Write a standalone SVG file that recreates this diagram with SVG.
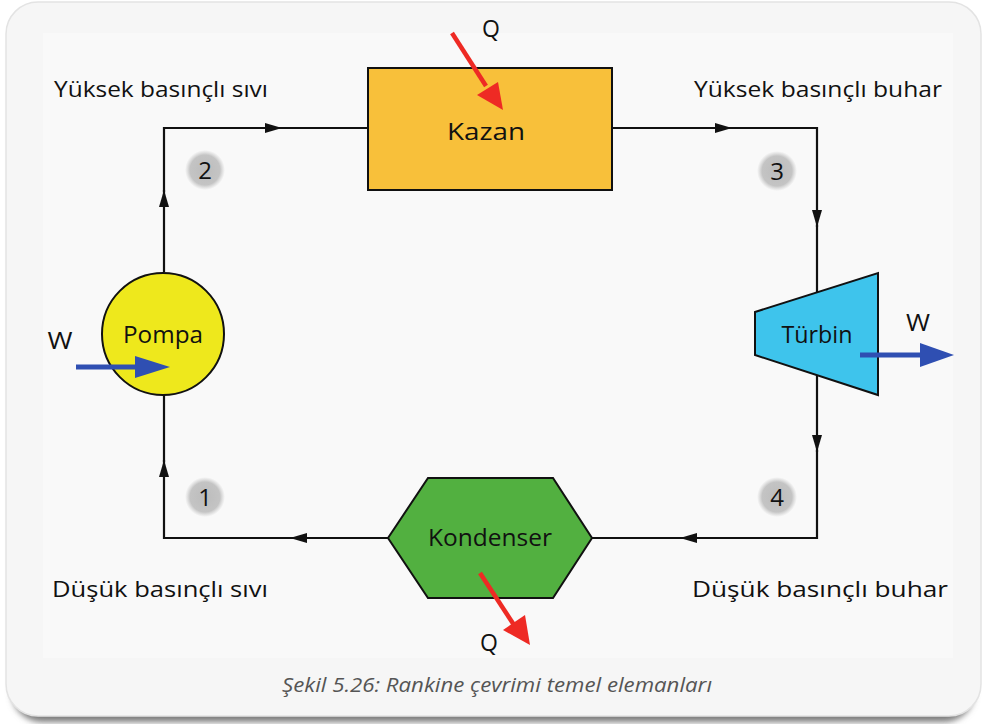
<svg xmlns="http://www.w3.org/2000/svg" width="984" height="724" viewBox="0 0 984 724">
<defs>
<style>
.lbl{font-family:"Open Sans","Liberation Sans",sans-serif;font-size:22px;fill:#111}
.nm{font-family:"Open Sans","Liberation Sans",sans-serif;font-size:23px;fill:#111;text-anchor:middle}
.num{font-family:"Open Sans","Liberation Sans",sans-serif;font-size:24px;fill:#111;text-anchor:middle}
.ln{fill:none;stroke:#111;stroke-width:2.2}
.sh{stroke:#111;stroke-width:2}
.cap{font-family:"Open Sans","Liberation Sans",sans-serif;font-size:20px;font-style:italic;fill:#555;text-anchor:middle}
</style>
<marker id="ah" viewBox="0 0 17 10" refX="17" refY="5" markerWidth="17" markerHeight="10" markerUnits="userSpaceOnUse" orient="auto">
<path d="M0,0 L17,5 L0,10 Z" fill="#111"/>
</marker>
<radialGradient id="ng">
<stop offset="0" stop-color="#bcbcbc"/>
<stop offset="0.75" stop-color="#c4c4c4"/>
<stop offset="1" stop-color="#cccccc" stop-opacity="0"/>
</radialGradient>
<filter id="blur" x="-10%" y="-10%" width="120%" height="140%"><feGaussianBlur stdDeviation="3"/></filter>
</defs>
<rect width="984" height="724" fill="#ffffff"/>
<rect x="12" y="20" width="962" height="702" rx="30" fill="#7a7a7a" filter="url(#blur)"/>
<rect x="6" y="2" width="975" height="714" rx="32" fill="#f6f6f6" stroke="#e3e3e3" stroke-width="1.5"/>
<rect x="43" y="33" width="910" height="625" fill="#f9f9f9"/>

<g id="connectors">
<path class="ln" d="M164,272 V190" marker-end="url(#ah)"/>
<path class="ln" d="M164,192 V128 H282" marker-end="url(#ah)"/>
<path class="ln" d="M280,128 H368"/>
<path class="ln" d="M612,128 H732" marker-end="url(#ah)"/>
<path class="ln" d="M730,128 H817 V227" marker-end="url(#ah)"/>
<path class="ln" d="M817,225 V300"/>
<path class="ln" d="M817,370 V452" marker-end="url(#ah)"/>
<path class="ln" d="M817,450 V538 H680" marker-end="url(#ah)"/>
<path class="ln" d="M682,538 H592"/>
<path class="ln" d="M388,538 H290" marker-end="url(#ah)"/>
<path class="ln" d="M292,538 H164 V460" marker-end="url(#ah)"/>
<path class="ln" d="M164,462 V395"/>
</g>

<g id="kazan">
<rect x="368" y="68" width="244" height="122" fill="#f8c03a" class="sh"/>
<text class="nm" x="486" y="140" textLength="78" lengthAdjust="spacingAndGlyphs">Kazan</text>
</g>

<g id="turbin">
<polygon points="755,312 878,273 878,395 755,355" fill="#3ec4ec" class="sh"/>
<text class="nm" x="817" y="343" textLength="71" lengthAdjust="spacingAndGlyphs">Türbin</text>
</g>

<g id="pompa">
<circle cx="163" cy="334" r="61" fill="#eee81c" class="sh"/>
<text class="nm" x="163" y="343" textLength="80" lengthAdjust="spacingAndGlyphs">Pompa</text>
</g>

<g id="kondenser">
<polygon points="388,538 428,478 553,478 592,538 553,598 428,598" fill="#52b040" class="sh"/>
<text class="nm" x="490" y="546" textLength="124" lengthAdjust="spacingAndGlyphs">Kondenser</text>
</g>

<g id="heat-work">
<line x1="452" y1="33" x2="486" y2="86" stroke="#ee2a24" stroke-width="4.5"/>
<polygon points="477,95 503,110 498,82" fill="#ee2a24"/>
<line x1="480" y1="573" x2="514" y2="625" stroke="#ee2a24" stroke-width="4.5"/>
<polygon points="503,630 530,645 525,615" fill="#ee2a24"/>
<line x1="76" y1="367" x2="140" y2="367" stroke="#2f4fb2" stroke-width="5"/>
<polygon points="135,356 170,367 135,378" fill="#2f4fb2"/>
<line x1="860" y1="355" x2="924" y2="355" stroke="#2f4fb2" stroke-width="5"/>
<polygon points="920,343 954,355 920,367" fill="#2f4fb2"/>
<text class="nm" x="491" y="37">Q</text>
<text class="nm" x="489" y="651">Q</text>
<text class="nm" x="60" y="349" textLength="25" lengthAdjust="spacingAndGlyphs">W</text>
<text class="nm" x="918" y="331" textLength="24" lengthAdjust="spacingAndGlyphs">W</text>
</g>

<g id="numbers">
<circle cx="205" cy="170" r="20" fill="url(#ng)"/>
<text class="num" x="205" y="179">2</text>
<circle cx="777" cy="171" r="20" fill="url(#ng)"/>
<text class="num" x="777" y="180">3</text>
<circle cx="205" cy="497" r="20" fill="url(#ng)"/>
<text class="num" x="205" y="506">1</text>
<circle cx="777" cy="497" r="20" fill="url(#ng)"/>
<text class="num" x="777" y="506">4</text>
</g>

<g id="labels">
<text class="lbl" x="54" y="97" textLength="214" lengthAdjust="spacingAndGlyphs">Yüksek basınçlı sıvı</text>
<text class="lbl" x="694" y="97" textLength="248" lengthAdjust="spacingAndGlyphs">Yüksek basınçlı buhar</text>
<text class="lbl" x="52" y="597" textLength="216" lengthAdjust="spacingAndGlyphs">Düşük basınçlı sıvı</text>
<text class="lbl" x="692" y="597" textLength="256" lengthAdjust="spacingAndGlyphs">Düşük basınçlı buhar</text>
<text class="cap" x="497" y="692" textLength="430" lengthAdjust="spacingAndGlyphs">Şekil 5.26: Rankine çevrimi temel elemanları</text>
</g>
</svg>
